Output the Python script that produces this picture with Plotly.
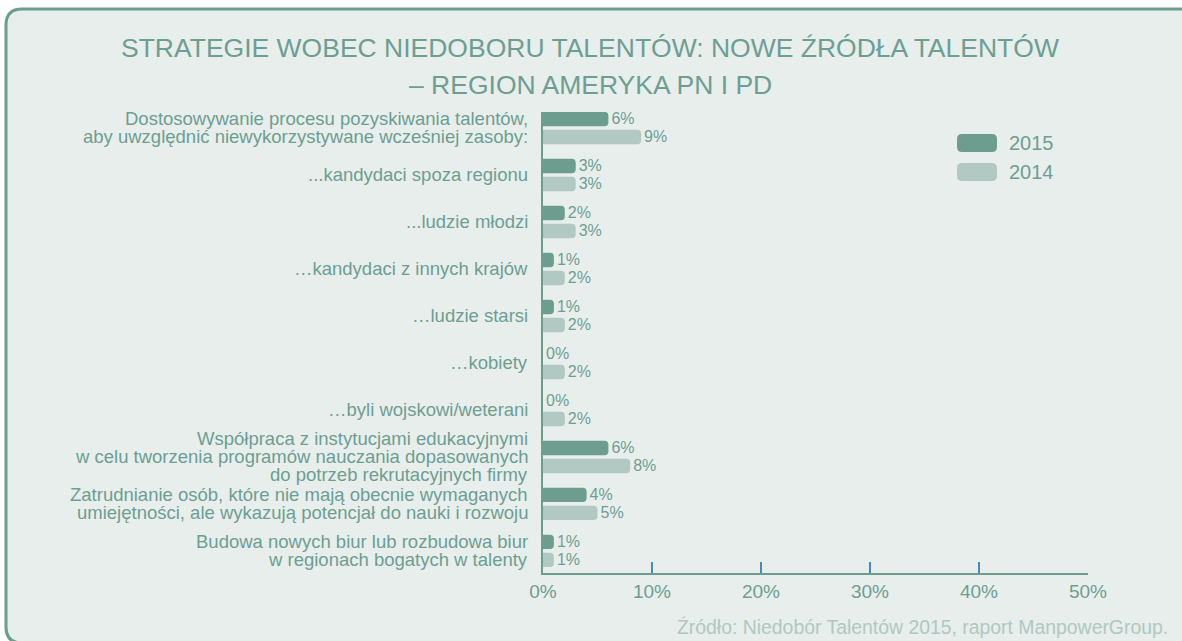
#!/usr/bin/env python3
"""Talent shortage strategies (Americas) - grouped horizontal bars."""
import plotly.graph_objects as go

CATEGORIES = [
    "Dostosowywanie procesu pozyskiwania talentów,<br>aby uwzględnić niewykorzystywane wcześniej zasoby:",
    "...kandydaci spoza regionu",
    "...ludzie młodzi",
    "…kandydaci z innych krajów",
    "…ludzie starsi",
    "…kobiety",
    "…byli wojskowi/weterani",
    "Współpraca z instytucjami edukacyjnymi<br>w celu tworzenia programów nauczania dopasowanych<br>do potrzeb rekrutacyjnych firmy",
    "Zatrudnianie osób, które nie mają obecnie wymaganych<br>umiejętności, ale wykazują potencjał do nauki i rozwoju",
    "Budowa nowych biur lub rozbudowa biur<br>w regionach bogatych w talenty",
]
VALUES_2015 = [6, 3, 2, 1, 1, 0, 0, 6, 4, 1]
VALUES_2014 = [9, 3, 3, 2, 2, 2, 2, 8, 5, 1]
SERIES = ["2015", "2014"]
X_TICKS = [0, 10, 20, 30, 40, 50]

TITLE_1 = "STRATEGIE WOBEC NIEDOBORU TALENTÓW: NOWE ŹRÓDŁA TALENTÓW"
TITLE_2 = "– REGION AMERYKA PN I PD"
SOURCE = "Źródło: Niedobór Talentów 2015, raport ManpowerGroup."

W, H = 1182, 641
PLOT_L, PLOT_R, PLOT_T, PLOT_B = 543, 1088, 112, 573
LINE_STEP = 18  # px between lines of a category label

DARK = "#6c9d8f"
LIGHT = "#b1c9c2"
TEXT = "#6d9e92"
PANEL = "#e8eeec"
FONT = "Liberation Sans, Arial, sans-serif"


def px(x, y):
    """Pixel position -> paper coordinates."""
    return (x - PLOT_L) / (PLOT_R - PLOT_L), (PLOT_B - y) / (PLOT_B - PLOT_T)


def rounded_path(x0, y0, x1, y1, r):
    pts = [
        ("M", x0 + r, y0), ("L", x1 - r, y0), ("Q", x1, y0, x1, y0 + r),
        ("L", x1, y1 - r), ("Q", x1, y1, x1 - r, y1), ("L", x0 + r, y1),
        ("Q", x0, y1, x0, y1 - r), ("L", x0, y0 + r), ("Q", x0, y0, x0 + r, y0),
    ]
    out = []
    for seg in pts:
        cmd, coords = seg[0], seg[1:]
        conv = []
        for i in range(0, len(coords), 2):
            a, b = px(coords[i], coords[i + 1])
            conv.append(f"{a:.5f},{b:.5f}")
        out.append(cmd + " ".join(conv))
    return " ".join(out) + " Z"


fig = go.Figure()
for name, vals, color in [("2015", VALUES_2015, DARK), ("2014", VALUES_2014, LIGHT)]:
    fig.add_trace(
        go.Bar(
            x=vals,
            y=CATEGORIES,
            orientation="h",
            name=name,
            marker={"color": color, "cornerradius": 4, "line": {"width": 0}},
            text=[f"{v}%" for v in vals],
            textposition="outside",
            constraintext="none",
            textfont={"size": 16, "color": TEXT, "family": FONT},
            cliponaxis=False,
            showlegend=False,
        )
    )

shapes = [
    # rounded panel behind everything
    {
        "type": "path",
        "path": rounded_path(6, 9, 1200, 643, 16),
        "xref": "paper", "yref": "paper",
        "fillcolor": PANEL,
        "line": {"color": "#6b9e90", "width": 3},
        "layer": "below",
    }
]
annotations = [
    {"text": TITLE_1, "x": px(590, 0)[0], "y": px(0, 48)[1], "font": {"size": 26.5}},
    {"text": TITLE_2, "x": px(590, 0)[0], "y": px(0, 85)[1], "font": {"size": 26.5}},
    {"text": SOURCE, "x": px(1170, 0)[0], "y": px(0, 627)[1], "xanchor": "right",
     "font": {"size": 19.4, "color": "#b0c8c1"}},
]

# legend drawn by hand to get the rounded swatches
for i, (name, color) in enumerate(zip(SERIES, [DARK, LIGHT])):
    cy = 143 + 29 * i
    shapes.append({
        "type": "path",
        "path": rounded_path(957, cy - 9, 997, cy + 9, 5),
        "xref": "paper", "yref": "paper",
        "fillcolor": color, "line": {"width": 0},
    })
    annotations.append({"text": name, "x": px(1007, 0)[0], "y": px(0, cy)[1],
                        "xanchor": "left", "font": {"size": 20}})

for a in annotations:
    a.setdefault("xanchor", "center")
    a.update({"xref": "paper", "yref": "paper", "yanchor": "middle", "showarrow": False})
    a["font"] = {"family": FONT, "color": TEXT, **a["font"]}

# category labels, one annotation per line so the line spacing stays tight
for idx, label in enumerate(CATEGORIES):
    lines = label.split("<br>")
    for k, line in enumerate(lines):
        annotations.append({
            "text": line,
            "xref": "paper", "x": px(530, 0)[0], "xanchor": "right",
            "yref": "y", "y": idx, "yanchor": "middle",
            "yshift": ((len(lines) - 1) / 2 - k) * LINE_STEP,
            "showarrow": False,
            "font": {"family": FONT, "size": 18.5, "color": TEXT},
        })

fig.update_layout(
    width=W,
    height=H,
    margin={"l": PLOT_L, "r": W - PLOT_R, "t": PLOT_T, "b": H - PLOT_B, "pad": 0},
    paper_bgcolor="white",
    plot_bgcolor="rgba(0,0,0,0)",
    barmode="group",
    bargap=0.234,
    bargroupgap=0.2,
    font={"family": FONT, "color": TEXT},
    shapes=shapes,
    annotations=annotations,
    showlegend=False,
)

fig.update_xaxes(
    range=[0, 50],
    tickvals=X_TICKS,
    ticktext=[f"{t}%" for t in X_TICKS],
    ticks="inside",
    ticklen=11,
    tickwidth=1.5,
    tickcolor="#4a88bb",
    tickfont={"size": 19, "color": TEXT},
    showgrid=False,
    zeroline=False,
    showline=True,
    linecolor="#6b9e90",
    linewidth=1.5,
    fixedrange=True,
)
fig.update_yaxes(
    type="category",
    range=[9.47, -0.34],
    showgrid=False,
    zeroline=False,
    showline=True,
    linecolor="#6b9e90",
    linewidth=1.5,
    ticks="",
    showticklabels=False,
    fixedrange=True,
)

fig.write_html(
    "out.html",
    config={"displayModeBar": False},
    post_script="document.body.style.margin='0';",
)
